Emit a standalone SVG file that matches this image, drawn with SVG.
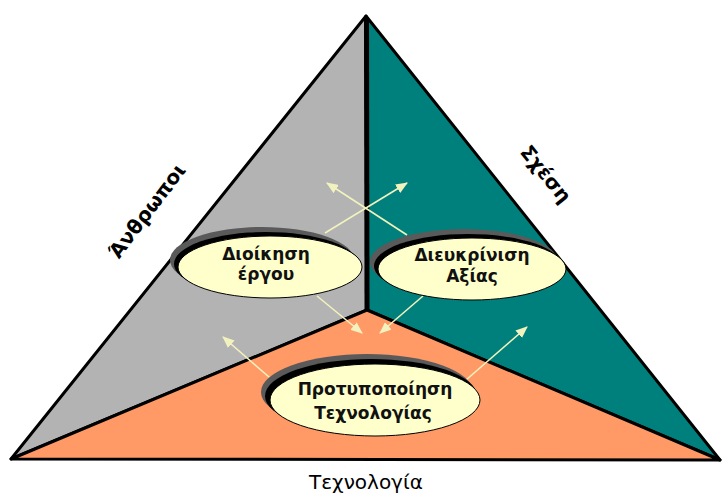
<svg xmlns="http://www.w3.org/2000/svg" width="723" height="497" viewBox="0 0 723 497">
<style>
.region{stroke:#000;stroke-width:3;stroke-linejoin:round}
.sh1{fill:#5a5a5a}
.sh2{fill:#000}
.oval{fill:#FFFFCC;stroke:#000;stroke-width:1}
.lbl{font-family:"DejaVu Sans",Verdana,sans-serif;font-weight:bold;font-size:17px;fill:#111;text-anchor:middle}
.side{font-family:"DejaVu Sans",Verdana,sans-serif;font-weight:bold;font-size:20px;fill:#000;text-anchor:middle}
.base{font-family:"DejaVu Sans",Verdana,sans-serif;font-size:20px;fill:#000;text-anchor:middle}
.arr{stroke:#F2F2BE;stroke-width:1.6;fill:none;marker-end:url(#ah)}
</style>
<defs>
<marker id="ah" viewBox="0 0 12 10" refX="11" refY="5" markerWidth="12" markerHeight="10" markerUnits="userSpaceOnUse" orient="auto">
<path d="M0,0 L12,5 L0,10 Z" fill="#F2F2BE"/>
</marker>
</defs>
<rect width="723" height="497" fill="#fff"/>
<g id="triangle">
<polygon class="region" points="366,16 367,310 11,459" fill="#B3B3B3"/>
<polygon class="region" points="366,16 720,460 367,310" fill="#00807C"/>
<polygon class="region" points="11,459 367,310 720,460" fill="#FF9966"/>
<line x1="366.5" y1="17" x2="367" y2="310" stroke="#000" stroke-width="5"/>
</g>
<g id="connectors">
<line class="arr" x1="325" y1="233" x2="407" y2="183"/>
<line class="arr" x1="407" y1="235" x2="327" y2="183"/>
<line class="arr" x1="317" y1="296" x2="362" y2="333"/>
<line class="arr" x1="423" y1="296" x2="380" y2="333"/>
<line class="arr" x1="277" y1="384" x2="223" y2="337"/>
<line class="arr" x1="466" y1="380" x2="527" y2="327"/>
</g>
<g id="node-dioikisi">
<ellipse class="sh1" cx="262" cy="260" rx="92" ry="33"/>
<ellipse class="sh2" cx="266" cy="264" rx="92" ry="32"/>
<ellipse class="oval" cx="270" cy="267" rx="92" ry="31"/>
<text class="lbl" x="266" y="260">Διοίκηση</text>
<text class="lbl" x="266" y="280">έργου</text>
</g>
<g id="node-diefkrinisi">
<ellipse class="sh1" cx="464" cy="262" rx="94" ry="33"/>
<ellipse class="sh2" cx="468" cy="266" rx="94" ry="32"/>
<ellipse class="oval" cx="472" cy="269" rx="94" ry="31"/>
<text class="lbl" x="472" y="261">Διευκρίνιση</text>
<text class="lbl" x="472" y="282">Αξίας</text>
</g>
<g id="node-protypopoiisi">
<ellipse class="sh1" cx="367" cy="392" rx="106" ry="38"/>
<ellipse class="sh2" cx="371" cy="396" rx="106" ry="37"/>
<ellipse class="oval" cx="375" cy="400" rx="105" ry="36"/>
<text class="lbl" x="375" y="395">Προτυποποίηση</text>
<text class="lbl" x="373" y="419">Τεχνολογίας</text>
</g>
<g id="labels">
<text class="side" transform="translate(147,211) rotate(-53)" y="7">Άνθρωποι</text>
<text class="side" transform="translate(546,174) rotate(51)" y="7">Σχέση</text>
<text class="base" x="366" y="489">Τεχνολογία</text>
</g>
</svg>
